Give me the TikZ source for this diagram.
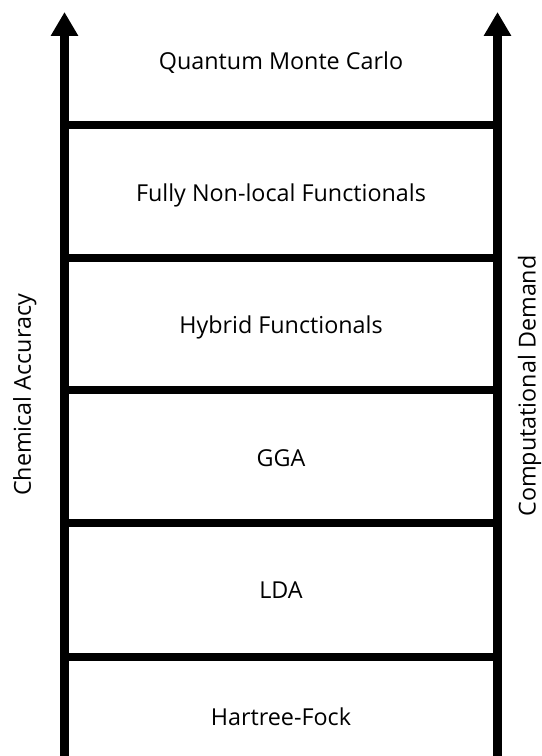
\documentclass[tikz,border=0pt]{standalone}
\usepackage{fontspec}
\setmainfont{Open Sans}
\usetikzlibrary{arrows.meta}
\begin{document}
\begin{tikzpicture}[x=0.75pt,y=-0.75pt,
  rail/.style={line width=6.4pt,-{Triangle[length=18pt,width=19.5pt]}},
  rung/.style={line width=6.2pt},
  lbl/.style={font=\fontsize{17.5}{21}\selectfont,inner sep=0pt,anchor=base},
  side/.style={font=\fontsize{17.5}{21}\selectfont,inner sep=0pt,rotate=90,anchor=base}]
\useasboundingbox (0,0) rectangle (542,756);
\coordinate (lb) at (64.5,760);
\coordinate (lt) at (64.5,12);
\coordinate (rb) at (497.5,760);
\coordinate (rt) at (497.5,12);
\draw[rail] (lb) -- (lt);
\draw[rail] (rb) -- (rt);
\foreach \y/\n in {125/r1,258/r2,390/r3,523/r4,657/r5}{
  \coordinate (\n l) at (64.5,\y);
  \coordinate (\n r) at (497.5,\y);
  \draw[rung] (\n l) -- (\n r);
}
\node[lbl] (qmc) at (281,70) {Quantum Monte Carlo};
\node[lbl] (fnl) at (281,201) {Fully Non-local Functionals};
\node[lbl] (hyb) at (281,333) {Hybrid Functionals};
\node[lbl] (gga) at (281,466) {GGA};
\node[lbl] (lda) at (281,598) {LDA};
\node[lbl] (hf) at (281,725) {Hartree-Fock};
\node[side] (ca) at (31,395) {Chemical Accuracy};
\node[side] (cd) at (535.5,386) {Computational Demand};
\end{tikzpicture}
\end{document}
